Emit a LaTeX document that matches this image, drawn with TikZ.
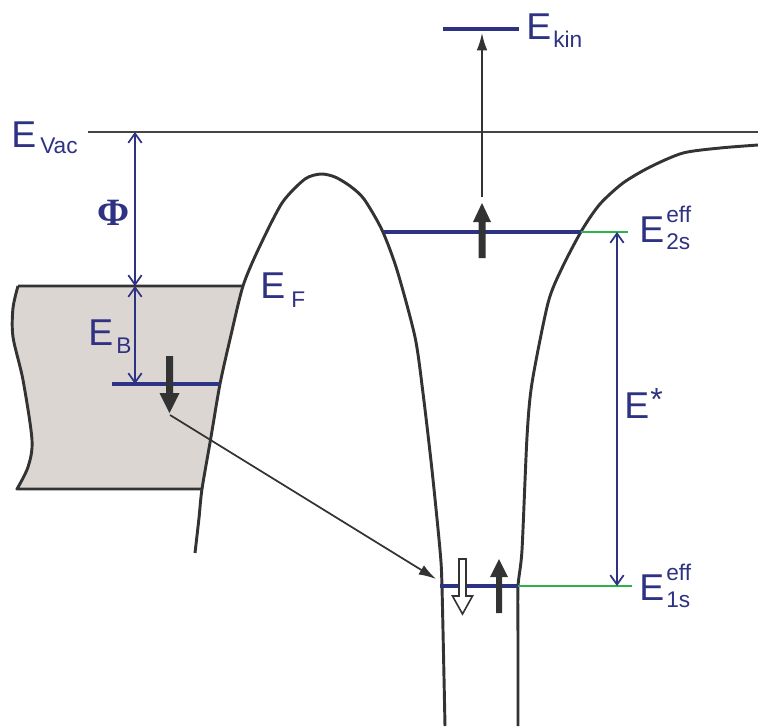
\documentclass[tikz,border=0pt]{standalone}
\usepackage{fontspec}
\setmainfont{Liberation Sans}
\newfontfamily\phifont{Liberation Serif}
\usetikzlibrary{arrows.meta}
\definecolor{navy}{HTML}{2E3282}
\definecolor{dk}{HTML}{333333}
\definecolor{vacgray}{HTML}{444444}
\definecolor{grn}{HTML}{2DB24A}
\definecolor{metal}{HTML}{DCD6D3}
\begin{document}
\begin{tikzpicture}[x=0.75pt,y=-0.75pt,
  big/.style={font=\fontsize{28}{30}\selectfont, text=navy, inner sep=0pt, anchor=base west},
  small/.style={font=\fontsize{17}{19}\selectfont, text=navy, inner sep=0pt, anchor=base west},
  curve/.style={draw=dk, line width=2.2pt, line join=round},
  level/.style={draw=navy, line width=2.6pt},
  greenline/.style={draw=grn, line width=0.8pt},
  dim/.style={draw=navy, line width=1.3pt, {Straight Barb[length=7pt,width=10pt]}-{Straight Barb[length=7pt,width=10pt]}},
  thinarrow/.style={draw=dk, line width=1.3pt, -{Latex[length=13pt,width=8pt]}},
  spinfull/.style={fill=dk, draw=none},
  spinhollow/.style={fill=white, draw=dk, line width=1.2pt, line join=miter},
]
\useasboundingbox (0,0) rectangle (758,726);

% metal block
\fill[metal] (18,286) -- (243,286) -- (231,335) -- (220,384) -- (211,437) -- (202,489) -- (17,489)
  -- (28,467) -- (32,440) -- (23,380) -- (13,337) -- (13,308) -- cycle;
\draw[curve] (243,286) -- (18,286)
  plot[smooth, tension=0.5] coordinates {(18,286) (13,308) (13,337) (23,380) (32,440) (28,467) (17,489)}
  -- (202,489);

% vacuum level
\draw[draw=vacgray, line width=1.5pt] (88,132) -- (758,132);

% potential curves
\draw[curve] plot[smooth, tension=0.45] coordinates {(195,553) (199,518) (202,489) (211,437) (220,384)
  (231,335) (243,286) (258,250) (282,203) (305,179) (321,174) (335,177) (350,186) (364,199)
  (382,230) (397,270) (415,337) (423,393) (432,470) (440,550) (442,587) (445,726)};
\draw[curve] plot[smooth, tension=0.45] coordinates {(518,726) (518,640) (518,587) (522,550)
  (527,437) (532,383) (548,303) (562,268) (582,230) (600,204) (623,183) (650,167)
  (683,153) (720,148) (758,145)};

% levels
\draw[level] (443,29) -- (519,29);
\draw[level] (384,232) -- (581,232);
\draw[greenline] (581,232) -- (628,232);
\draw[level] (440,586) -- (518,586);
\draw[greenline] (518,586) -- (632,586);
\draw[level] (112,384) -- (220,384);

% dimension arrows
\coordinate (vacPhi) at (135,132);
\coordinate (fermi) at (135,286);
\coordinate (ebl) at (135,384);
\coordinate (sTwo) at (617,232);
\coordinate (sOne) at (617,586);
\draw[dim] (vacPhi) -- (fermi);
\draw[dim] (fermi) -- (ebl);
\draw[dim] (sTwo) -- (sOne);

% thin arrows
\coordinate (kinStart) at (482,197);
\coordinate (kinEnd) at (482,33);
\coordinate (diagStart) at (170,415);
\coordinate (diagEnd) at (436,579);
\draw[thinarrow] (kinStart) -- (kinEnd);
\draw[thinarrow] (diagStart) -- (diagEnd);

% spin arrows
\fill[spinfull] (166,356) -- (173,356) -- (173,393) -- (179.5,393) -- (169.5,413) -- (159.5,393) -- (166,393) -- cycle;
\fill[spinfull] (478.5,258) -- (485.5,258) -- (485.5,222) -- (491,222) -- (482,203) -- (473,222) -- (478.5,222) -- cycle;
\fill[spinfull] (496,613) -- (502,613) -- (502,577) -- (508,577) -- (499,559) -- (490,577) -- (496,577) -- cycle;
\draw[spinhollow] (459,559) -- (466,559) -- (466,596) -- (472.5,596) -- (462.5,614) -- (452.5,596) -- (459,596) -- cycle;

% labels
\node[big] (evacE) at (11,147) {E};
\node[small] (evacS) at (40,153) {Vac};
\node[font=\phifont\bfseries\fontsize{29}{31}\selectfont, text=navy, inner sep=0pt] (phi) at (114,213) {Φ};
\node[big] (ebE) at (88,345) {E};
\node[small] (ebS) at (116,353) {B};
\node[big] (efE) at (260,298) {E};
\node[small] (efS) at (291,307) {F};
\node[big] (ekinE) at (526,39) {E};
\node[small] (ekinS) at (553,47) {kin};
\node[big] (etwoE) at (639,242) {E};
\node[small] (etwoSup) at (666,222) {eff};
\node[small] (etwoSub) at (666,249) {2s};
\node[big] (eoneE) at (639,600) {E};
\node[small] (eoneSup) at (666,580) {eff};
\node[small] (eoneSub) at (666,607) {1s};
\node[big] (estarE) at (624,418) {E};
\node[font=\fontsize{24}{26}\selectfont, text=navy, inner sep=0pt, anchor=base west] (estarS) at (650,410) {*};
\end{tikzpicture}
\end{document}
